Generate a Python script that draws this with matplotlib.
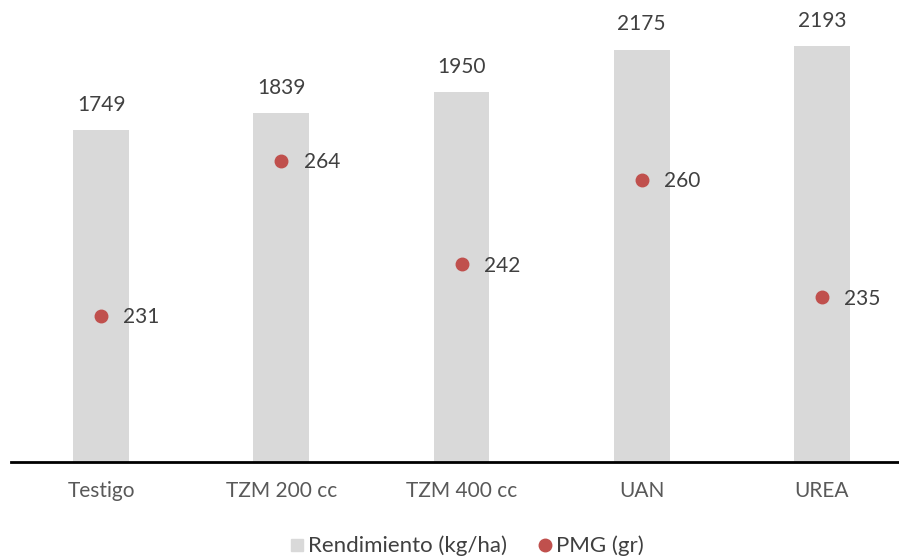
import matplotlib.pyplot as plt
from matplotlib.lines import Line2D

plt.rcParams['font.family'] = ['Lato', 'DejaVu Sans']

tratamientos = ['Testigo', 'TZM 200 cc', 'TZM 400 cc', 'UAN', 'UREA']
rendimiento = [1749, 1839, 1950, 2175, 2193]   # kg/ha
pmg = [231, 264, 242, 260, 235]                # gr

bar_color = '#D9D9D9'
dot_color = '#C0504D'
text_color = '#404040'

W, H = 899, 556
fig = plt.figure(figsize=(W / 100, H / 100), dpi=100)
# plot area in pixels: x 11..912, y -8..461.6 (top a bit above the canvas)
left, right, top, bottom = 11, 912, -8, 461.6
ax = fig.add_axes([left / W, (H - bottom) / H, (right - left) / W, (bottom - top) / H])
ax2 = ax.twinx()

x = range(len(tratamientos))
ax.bar(x, rendimiento, width=0.31, color=bar_color, zorder=1)
for xi, v in zip(x, rendimiento):
    ax.annotate(str(v), (xi, v), xytext=(0, 11), textcoords='offset points',
                ha='center', va='bottom', fontsize=15, color=text_color)

ax2.plot(x, pmg, linestyle='none', marker='o', ms=9, color=dot_color, zorder=3)
for xi, v in zip(x, pmg):
    ax2.annotate(str(v), (xi, v), xytext=(16, -1), textcoords='offset points',
                 ha='left', va='center', fontsize=15, color=text_color)

ax.set_xlim(-0.5, len(tratamientos) - 0.5)
ax.set_ylim(0, 2480)
ax2.set_ylim(200, 300)

for a in (ax, ax2):
    for s in ('top', 'right', 'left'):
        a.spines[s].set_visible(False)
    a.set_yticks([])
ax2.spines['bottom'].set_visible(False)
ax.spines['bottom'].set_linewidth(2)
ax.spines['bottom'].set_color('black')

ax.set_xticks(list(x))
ax.set_xticklabels(tratamientos, fontsize=15, color='#595959')
ax.tick_params(axis='x', length=0, pad=14)

handles = [
    Line2D([], [], linestyle='none', marker='s', ms=9, color=bar_color),
    Line2D([], [], linestyle='none', marker='o', ms=9, color=dot_color),
]
fig.legend(handles, ['Rendimiento (kg/ha)', 'PMG (gr)'], loc='center',
           bbox_to_anchor=(466 / W, 1 - 546 / H), ncol=2, frameon=False,
           fontsize=16, labelcolor=text_color, handletextpad=0.1,
           columnspacing=1.3, handlelength=0.8)

fig.savefig('out.png', dpi=100)
